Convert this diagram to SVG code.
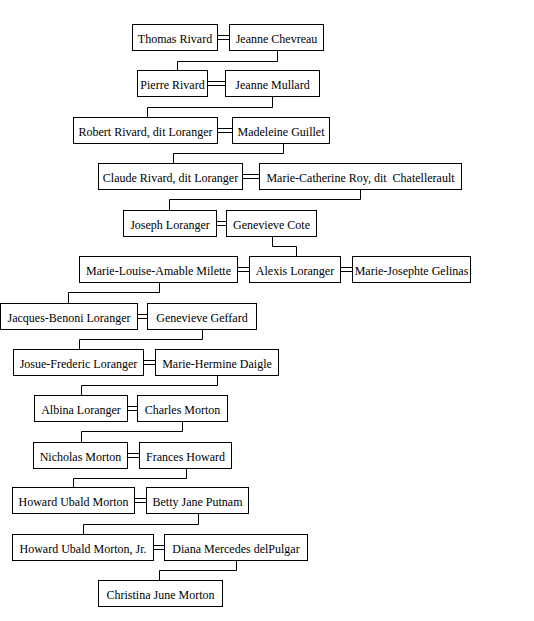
<svg xmlns="http://www.w3.org/2000/svg" width="534" height="621" viewBox="0 0 534 621">
<style>
rect{fill:#fff;stroke:#000;stroke-width:1}
text{font-size:12px;fill:#000;text-anchor:middle}
.c path{fill:none;stroke:#000;stroke-width:1}
</style>
<rect x="0" y="0" width="534" height="621" style="stroke:none"/>
<g class="c" id="connectors">
<path d="M277.5 50V61.5H177.5V70"/>
<path d="M272.5 97V107.5H147.5V117"/>
<path d="M283.5 143V153.5H173.5V163"/>
<path d="M360.5 189V199.5H169.5V210"/>
<path d="M272.5 236V246.5H296.5V256"/>
<path d="M159.5 282V292.5H68.5V303"/>
<path d="M202.5 329V339.5H79.5V349"/>
<path d="M217.5 375V385.5H81.5V395"/>
<path d="M182.5 421V431.5H81.5V442"/>
<path d="M186.5 468V478.5H73.5V487"/>
<path d="M198.5 513V524.5H83.5V534"/>
<path d="M236.5 560V570.5H159.5V580"/>
<path d="M217 35.5H229M217 39.5H229"/>
<path d="M207 81.5H225M207 85.5H225"/>
<path d="M217 128.5H232M217 132.5H232"/>
<path d="M242 174.5H259M242 178.5H259"/>
<path d="M216 221.5H226M216 225.5H226"/>
<path d="M237 267.5H249M237 271.5H249"/>
<path d="M340 267.5H352M340 271.5H352"/>
<path d="M137 314.5H147M137 318.5H147"/>
<path d="M143 360.5H155M143 364.5H155"/>
<path d="M127 406.5H137M127 410.5H137"/>
<path d="M127 453.5H139M127 457.5H139"/>
<path d="M134 498.5H146M134 502.5H146"/>
<path d="M153 545.5H164M153 549.5H164"/>
</g>
<g font-family="Liberation Serif, Times New Roman, serif">
<g id="n1"><rect x="132.5" y="24.5" width="85" height="26"/><text x="175" y="43">Thomas Rivard</text></g>
<g id="n2"><rect x="229.5" y="24.5" width="94" height="26"/><text x="276.5" y="43">Jeanne Chevreau</text></g>
<g id="n3"><rect x="137.5" y="70.5" width="70" height="26"/><text x="172.5" y="89">Pierre Rivard</text></g>
<g id="n4"><rect x="225.5" y="70.5" width="94" height="26"/><text x="272.5" y="89">Jeanne Mullard</text></g>
<g id="n5"><rect x="73.5" y="117.5" width="144" height="26"/><text x="145.5" y="136">Robert Rivard, dit Loranger</text></g>
<g id="n6"><rect x="232.5" y="117.5" width="97" height="26"/><text x="281" y="136">Madeleine Guillet</text></g>
<g id="n7"><rect x="98.5" y="163.5" width="144" height="26"/><text x="170.5" y="182">Claude Rivard, dit Loranger</text></g>
<g id="n8"><rect x="259.5" y="163.5" width="202" height="26"/><text x="360.5" y="182" xml:space="preserve">Marie-Catherine Roy, dit  Chatellerault</text></g>
<g id="n9"><rect x="123.5" y="210.5" width="93" height="26"/><text x="170" y="229">Joseph Loranger</text></g>
<g id="n10"><rect x="226.5" y="210.5" width="90" height="26"/><text x="271.5" y="229">Genevieve Cote</text></g>
<g id="n11"><rect x="79.5" y="256.5" width="158" height="26"/><text x="158.5" y="275">Marie-Louise-Amable Milette</text></g>
<g id="n12"><rect x="249.5" y="256.5" width="91" height="26"/><text x="295" y="275">Alexis Loranger</text></g>
<g id="n13"><rect x="352.5" y="256.5" width="118" height="26"/><text x="411.5" y="275">Marie-Josephte Gelinas</text></g>
<g id="n14"><rect x="0.5" y="303.5" width="137" height="26"/><text x="69" y="322">Jacques-Benoni Loranger</text></g>
<g id="n15"><rect x="147.5" y="303.5" width="109" height="26"/><text x="202" y="322">Genevieve Geffard</text></g>
<g id="n16"><rect x="13.5" y="349.5" width="130" height="26"/><text x="78.5" y="368">Josue-Frederic Loranger</text></g>
<g id="n17"><rect x="155.5" y="349.5" width="123" height="26"/><text x="217" y="368">Marie-Hermine Daigle</text></g>
<g id="n18"><rect x="34.5" y="395.5" width="93" height="26"/><text x="81" y="414">Albina Loranger</text></g>
<g id="n19"><rect x="137.5" y="395.5" width="90" height="26"/><text x="182.5" y="414">Charles Morton</text></g>
<g id="n20"><rect x="33.5" y="442.5" width="94" height="26"/><text x="80.5" y="461">Nicholas Morton</text></g>
<g id="n21"><rect x="139.5" y="442.5" width="92" height="26"/><text x="185.5" y="461">Frances Howard</text></g>
<g id="n22"><rect x="12.5" y="487.5" width="122" height="26"/><text x="73.5" y="506">Howard Ubald Morton</text></g>
<g id="n23"><rect x="146.5" y="487.5" width="102" height="26"/><text x="197.5" y="506">Betty Jane Putnam</text></g>
<g id="n24"><rect x="12.5" y="534.5" width="141" height="26"/><text x="83" y="553">Howard Ubald Morton, Jr.</text></g>
<g id="n25"><rect x="164.5" y="534.5" width="143" height="26"/><text x="236" y="553">Diana Mercedes delPulgar</text></g>
<g id="n26"><rect x="98.5" y="580.5" width="124" height="26"/><text x="160.5" y="599">Christina June Morton</text></g>
</g>
</svg>
